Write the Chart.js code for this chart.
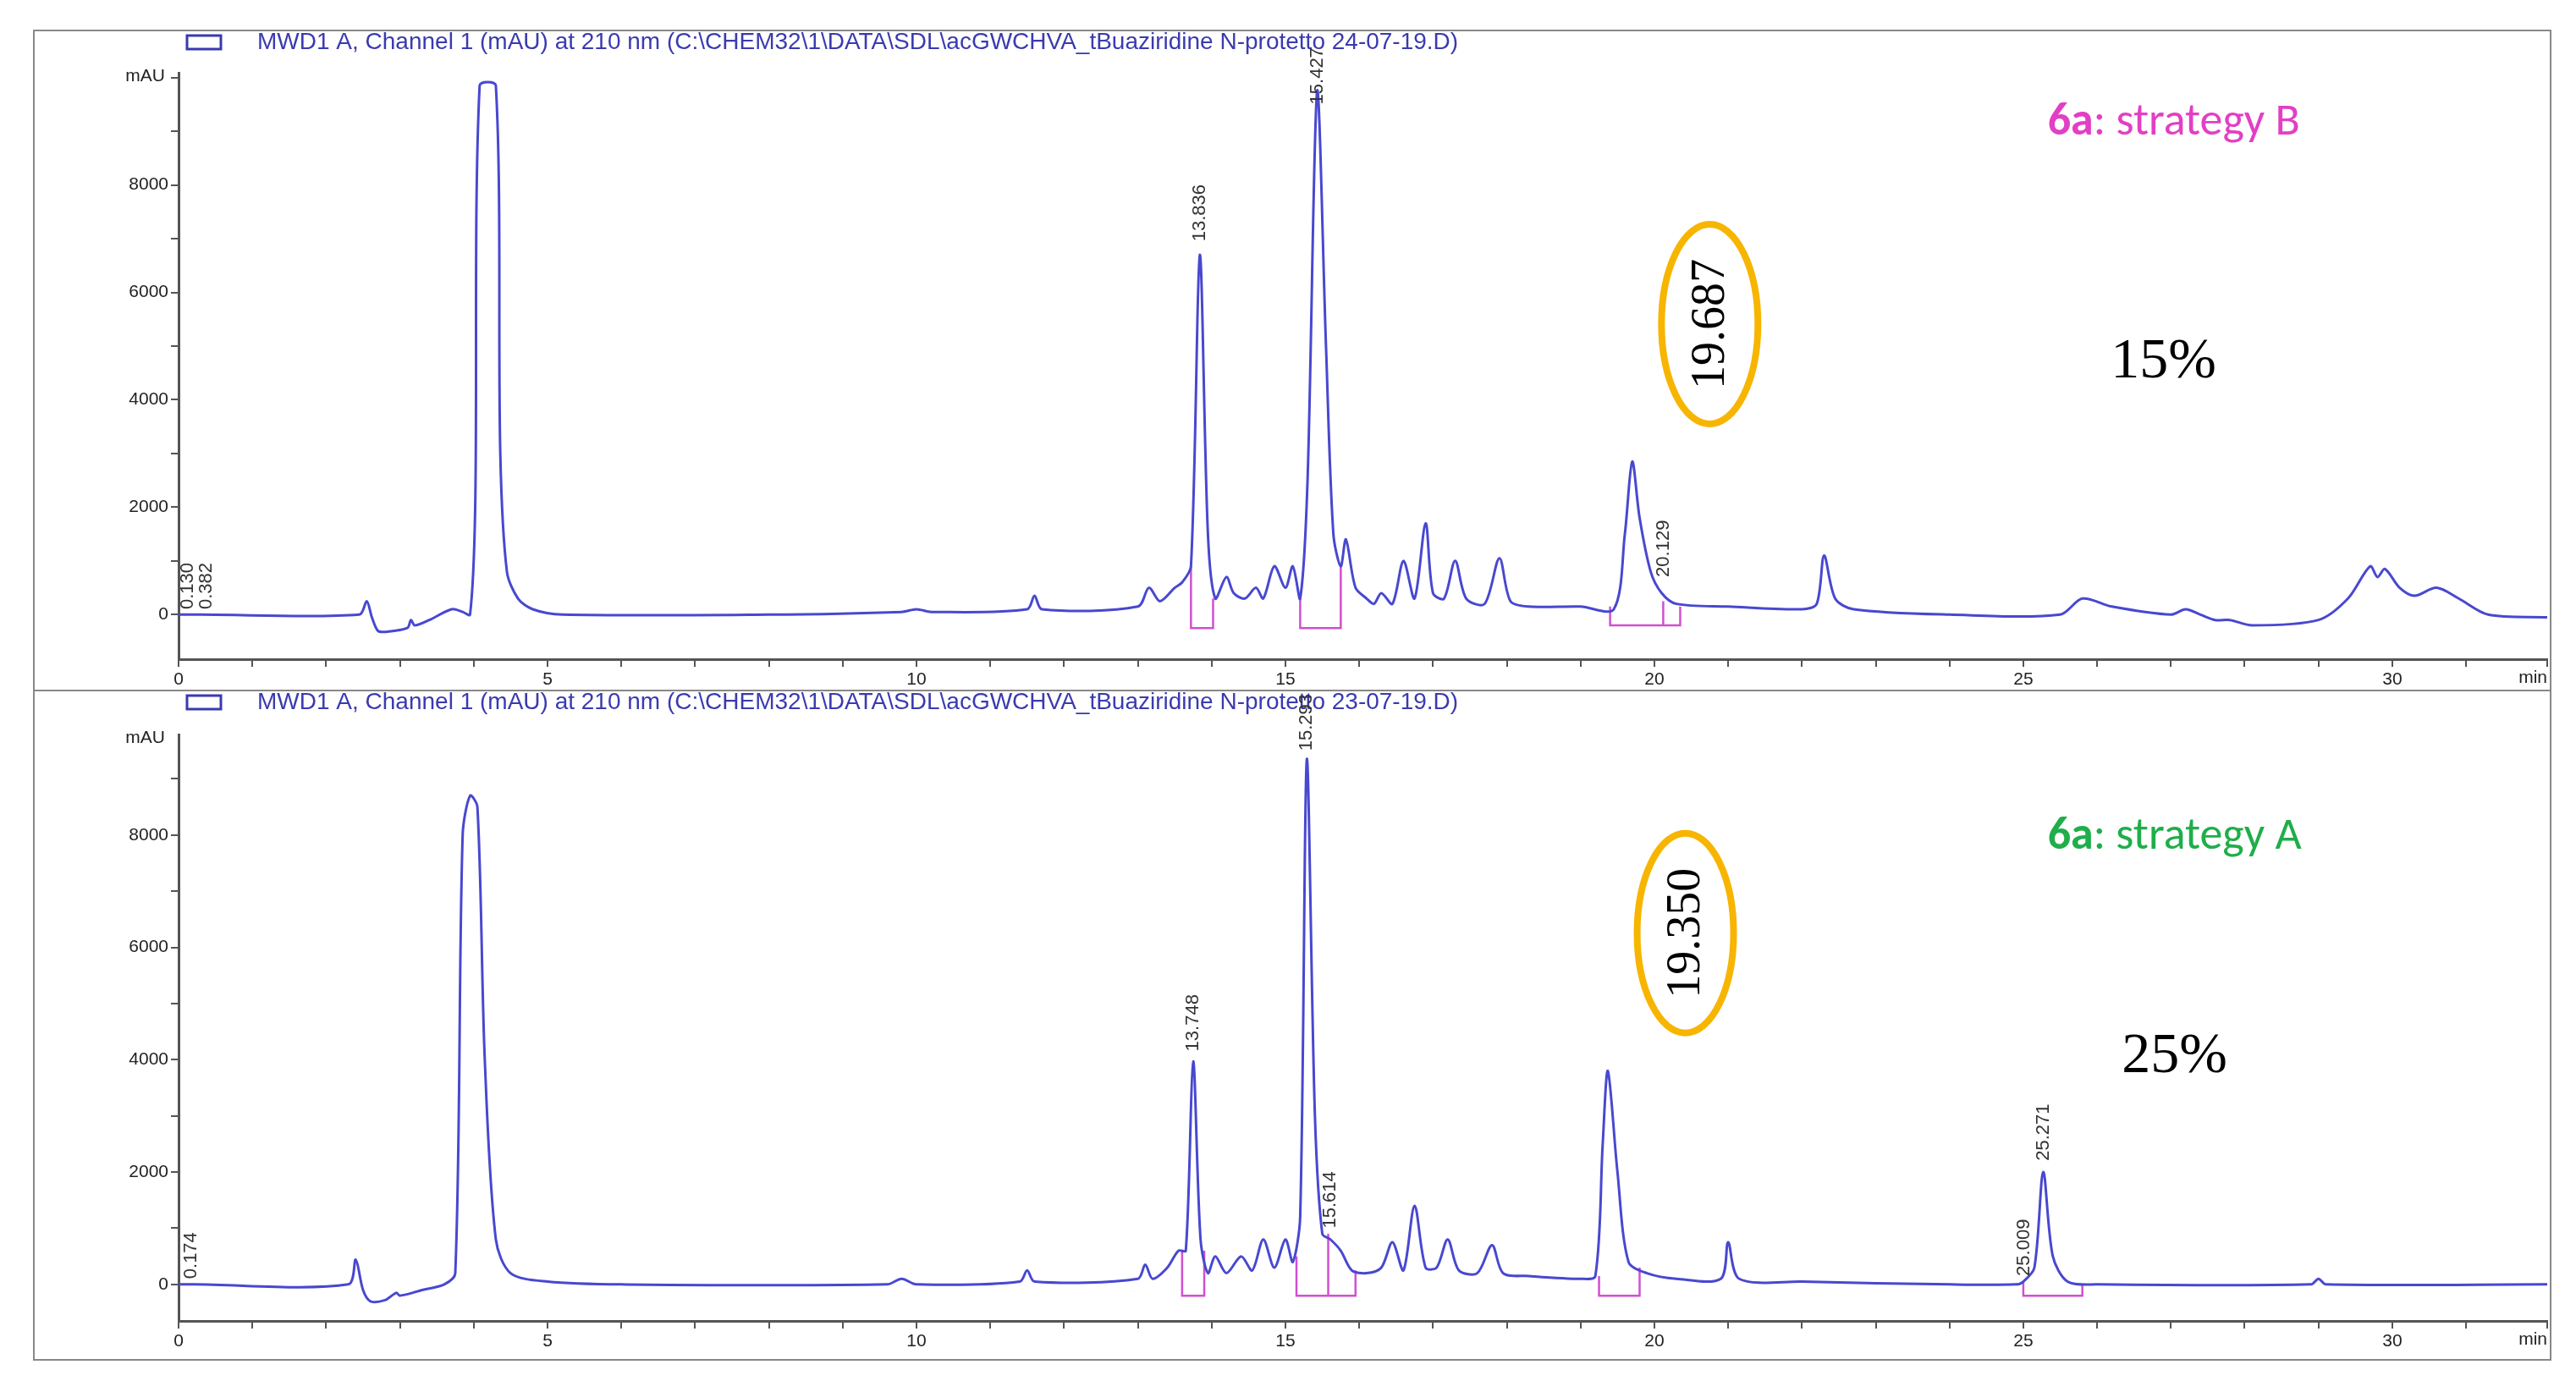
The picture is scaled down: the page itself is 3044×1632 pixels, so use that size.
<!DOCTYPE html>
<html><head><meta charset="utf-8">
<script src="https://cdn.jsdelivr.net/npm/chart.js@4"></script>
<style>
body{margin:0;background:#fff;width:3044px;height:1632px;position:relative;overflow:hidden}
.p{position:absolute;left:39px;width:2976px;border:2px solid #888;box-sizing:border-box}
</style></head><body>
<div class="p" style="top:35px;height:782px"><canvas id="c1"></canvas></div>
<div class="p" style="top:815px;height:793px"><canvas id="c2"></canvas></div>
<script>
const headerB = "MWD1 A, Channel 1 (mAU) at 210 nm (C:\\CHEM32\\1\\DATA\\SDL\\acGWCHVA_tBuaziridine N-protetto 24-07-19.D)";
const headerA = "MWD1 A, Channel 1 (mAU) at 210 nm (C:\\CHEM32\\1\\DATA\\SDL\\acGWCHVA_tBuaziridine N-protetto 23-07-19.D)";
const yTicks = [0,2000,4000,6000,8000];
const xTicks = [0,5,10,15,20,25,30];
const traceB = [[0,0],[0.3,0],[2.45,0],[2.55,250],[2.62,-50],[2.7,-300],[2.8,-320],[3.1,-250],[3.15,-100],[3.2,-200],[3.4,-100],[3.7,100],[3.85,50],[3.95,0],[4.02,2000],[4.08,9850],[4.3,9850],[4.36,3000],[4.45,800],[4.6,300],[4.8,100],[5.2,0],[8,0],[9.8,50],[10,100],[10.2,50],[11.5,100],[11.6,350],[11.7,100],[13.0,150],[13.15,500],[13.3,250],[13.5,500],[13.6,600],[13.72,900],[13.84,6700],[13.95,1500],[14.05,300],[14.2,700],[14.3,400],[14.45,300],[14.6,500],[14.7,300],[14.85,900],[15.0,500],[15.1,900],[15.2,300],[15.3,2500],[15.43,9750],[15.55,5000],[15.65,1500],[15.75,900],[15.82,1400],[15.95,500],[16.1,300],[16.2,200],[16.3,400],[16.45,200],[16.6,1000],[16.75,300],[16.9,1700],[17.0,400],[17.15,300],[17.3,1000],[17.45,300],[17.7,200],[17.9,1050],[18.05,250],[18.3,150],[19.0,150],[19.45,100],[19.6,1500],[19.7,2850],[19.8,1800],[19.95,800],[20.1,400],[20.3,200],[21,150],[22.0,100],[22.2,200],[22.3,1100],[22.45,300],[22.7,100],[24,0],[25.5,0],[25.8,300],[26.2,150],[27,0],[27.2,100],[27.4,0],[27.6,-100],[27.8,-100],[28.1,-200],[29,-100],[29.4,300],[29.7,900],[29.8,700],[29.9,850],[30.1,500],[30.3,350],[30.6,500],[30.9,300],[31.3,0],[32.1,-50]];
const traceA = [[0,0],[0.2,0],[2.3,0],[2.4,440],[2.5,-100],[2.6,-300],[2.8,-280],[2.95,-150],[3.0,-200],[3.3,-100],[3.6,0],[3.75,200],[3.85,8000],[3.95,8700],[4.05,8500],[4.15,4000],[4.3,800],[4.5,200],[5,50],[6,0],[9.6,0],[9.8,100],[10,0],[11.4,50],[11.5,250],[11.6,50],[13.0,100],[13.1,350],[13.2,100],[13.4,300],[13.55,600],[13.65,600],[13.75,3970],[13.85,800],[13.95,200],[14.05,500],[14.2,200],[14.4,500],[14.55,250],[14.7,800],[14.85,300],[15.0,800],[15.1,400],[15.2,1200],[15.29,9350],[15.4,3000],[15.5,900],[15.61,800],[15.75,600],[15.9,250],[16.1,200],[16.3,300],[16.45,750],[16.6,250],[16.75,1400],[16.9,300],[17.05,300],[17.2,800],[17.35,250],[17.6,200],[17.8,700],[17.95,200],[18.3,150],[19,100],[19.2,150],[19.3,2500],[19.37,3800],[19.5,2000],[19.65,400],[19.9,200],[20.3,100],[20.9,100],[21.0,750],[21.15,100],[22,50],[24,0],[24.9,0],[25.0,50],[25.15,300],[25.27,2000],[25.4,500],[25.6,50],[26,0],[28.9,0],[29.0,100],[29.1,0],[32.1,0]];
const boxesB = [[13.72,900],[13.72,-250],[14.02,-250],[14.02,300],null,[15.2,300],[15.2,-250],[15.75,-250],[15.75,900],null,[19.4,150],[19.4,-200],[20.35,-200],[20.35,150],null,[20.12,-200],[20.12,250]];
const boxesA = [[13.6,600],[13.6,-200],[13.9,-200],[13.9,600],null,[15.15,500],[15.15,-200],[15.95,-200],[15.95,250],null,[15.58,-200],[15.58,900],null,[19.25,150],[19.25,-200],[19.8,-200],[19.8,300],null,[25.0,50],[25.0,-200],[25.8,-200],[25.8,0]];
const peakLabelsB = [["0.130",0.13,100],["0.382",0.38,100],["13.836",13.84,6950],["15.427",15.43,9500],["20.129",20.13,700]];
const peakLabelsA = [["0.174",0.17,100],["13.748",13.75,4150],["15.293",15.29,9500],["15.614",15.61,1000],["25.009",25.01,150],["25.271",25.27,2200]];
const noteB = {tag:"6a",rest:": strategy B",color:"#e23fc4",tx:27.04,ty:9150,pct:"15%",px:26.9,py:4700,rt:"19.687",ex:20.75,ey:5410};
const noteA = {tag:"6a",rest:": strategy A",color:"#1fae4a",tx:27.05,ty:7955,pct:"25%",px:27.05,py:4045,rt:"19.350",ex:20.42,ey:6255};

function toXY(a){return a.map(p=>p?{x:p[0],y:p[1]}:{x:null,y:null});}

function makeChart(id, trace, boxes, labels, note, header, ymin, ymax, padTop, xH){
  const plugin = {id:'ann'+id, afterDraw(ch){
    const c=ch.ctx, xs=ch.scales.x, ys=ch.scales.y;
    c.save();
    c.strokeStyle='#3a3ab0';c.lineWidth=3;c.strokeRect(180,5,40,16);
    c.fillStyle='#3a3ab0';c.font='28px Liberation Sans, Arial';c.textBaseline='middle';c.textAlign='left';
    c.fillText(header,263,13);
    c.fillStyle='#222';c.font='21px Liberation Sans, Arial';c.textAlign='right';
    c.fillText('mAU',ch.chartArea.left-16,ch.chartArea.top+4);
    c.fillText('min',ch.chartArea.right,ch.chartArea.bottom+22);
    c.font='22px Liberation Sans Narrow, Liberation Sans, Arial';c.fillStyle='#333';c.textAlign='left';
    labels.forEach(l=>{const x=xs.getPixelForValue(l[1]),y=ys.getPixelForValue(l[2]);
      c.save();c.translate(x,y);c.rotate(-Math.PI/2);c.textBaseline='middle';c.fillText(l[0],0,0);c.restore();});
    c.font='bold 54px Calibri, Carlito, Liberation Sans, Arial';c.textBaseline='middle';
    const tw=c.measureText(note.tag).width;c.font='54px Calibri, Carlito, Liberation Sans, Arial';
    const rw=c.measureText(note.rest).width;
    const tx=xs.getPixelForValue(note.tx)-(tw+rw)/2, ty=ys.getPixelForValue(note.ty);
    c.fillStyle=note.color;c.font='bold 54px Calibri, Carlito, Liberation Sans, Arial';c.fillText(note.tag,tx,ty);
    c.font='54px Calibri, Carlito, Liberation Sans, Arial';c.fillText(note.rest,tx+tw,ty);
    c.fillStyle='#000';c.font='68px Liberation Serif, Times New Roman';c.textAlign='center';
    c.fillText(note.pct,xs.getPixelForValue(note.px),ys.getPixelForValue(note.py));
    const ex=xs.getPixelForValue(note.ex), ey=ys.getPixelForValue(note.ey);
    c.fillStyle='#fff';c.beginPath();c.ellipse(ex,ey,57,118,0,0,Math.PI*2);c.fill();
    c.strokeStyle='#f7b500';c.lineWidth=8;c.stroke();
    c.save();c.translate(ex,ey);c.rotate(-Math.PI/2);c.fillStyle='#000';c.font='56px Liberation Serif, Times New Roman';
    c.textAlign='center';c.textBaseline='middle';c.fillText(note.rt,0,2);c.restore();
    c.restore();
  }};
  return new Chart(document.getElementById(id),{
    type:'line',
    data:{datasets:[
      {data:toXY(trace),borderColor:'#4848d0',borderWidth:3,pointRadius:0,tension:0.3,spanGaps:false},
      {data:toXY(boxes),borderColor:'#d050d0',borderWidth:2.5,pointRadius:0,tension:0,spanGaps:false}
    ]},
    options:{responsive:true,maintainAspectRatio:false,animation:false,
      layout:{padding:{top:padTop,left:10,right:0,bottom:0}},
      plugins:{legend:{display:false},tooltip:{enabled:false}},
      scales:{
        x:{type:'linear',min:0,max:32.1,
          afterFit:s=>{s.height=xH;},
          border:{color:'#555',width:3},
          grid:{drawOnChartArea:false,tickLength:9,color:'#555',lineWidth:2},
          ticks:{stepSize:1,autoSkip:false,maxRotation:0,font:{size:21,family:'Liberation Sans'},color:'#222',
            callback:v=>xTicks.includes(v)?String(v):''}},
        y:{type:'linear',min:ymin,max:ymax,
          afterFit:s=>{s.width=160;},
          afterBuildTicks:s=>{const t=[];for(let v=Math.ceil(ymin/1000)*1000;v<=ymax;v+=1000)t.push({value:v});s.ticks=t;},
          border:{color:'#555',width:3},
          grid:{drawOnChartArea:false,tickLength:9,color:'#555',lineWidth:2},
          ticks:{autoSkip:false,font:{size:21,family:'Liberation Sans'},color:'#222',
            callback:v=>yTicks.includes(v)?String(v):''}}
      }},
    plugins:[plugin]
  });
}
makeChart('c1',traceB,boxesB,peakLabelsB,noteB,headerB,-830,10090,49,36);
makeChart('c2',traceA,boxesA,peakLabelsA,noteA,headerA,-650,9790,51,45);
</script></body></html>
